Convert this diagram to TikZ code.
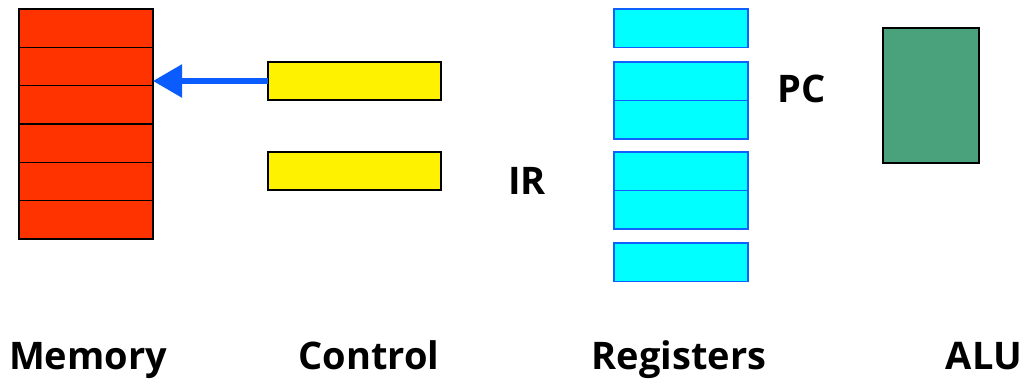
\documentclass[tikz,border=0pt]{standalone}
\usepackage{fontspec}
\setmainfont{Open Sans}
\usetikzlibrary{arrows.meta}
\definecolor{memred}{HTML}{FF3300}
\definecolor{ctlyellow}{HTML}{FFF200}
\definecolor{regcyan}{HTML}{00FFFF}
\definecolor{regblue}{HTML}{1060FF}
\definecolor{alugreen}{HTML}{49A27B}
\definecolor{arrowblue}{HTML}{0A5CFF}
\tikzset{
  cell/.style={draw=black, line width=1.4pt, inner sep=0pt, outer sep=0pt, anchor=north west},
  memcell/.style={cell, fill=memred, minimum width=134pt, minimum height=38.33pt},
  ctlbox/.style={cell, fill=ctlyellow, minimum width=173pt, minimum height=38pt},
  regbox/.style={cell, draw=regblue, fill=regcyan, minimum width=134pt, minimum height=38.5pt},
  alubox/.style={cell, fill=alugreen, minimum width=96pt, minimum height=135pt},
  lbl/.style={font=\fontsize{38}{44}\selectfont\bfseries, inner sep=0pt, anchor=base},
}
\begin{document}
\begin{tikzpicture}[x=1pt, y=-1pt]
\useasboundingbox (0,0) rectangle (1029,383);
% memory column
\foreach \i in {0,...,5} {
  \node[memcell] (m\i) at (19, {9+38.33*\i}) {};
}
% control registers
\node[ctlbox] (c1) at (268, 62) {};
\node[ctlbox] (c2) at (268, 152) {};
% register file
\node[regbox] (r0) at (614, 9) {};
\node[regbox] (r1) at (614, 62) {};
\node[regbox] (r2) at (614, 100.5) {};
\node[regbox] (r3) at (614, 152) {};
\node[regbox] (r4) at (614, 190.5) {};
\node[regbox] (r5) at (614, 243) {};
% ALU
\node[alubox] (alu) at (883, 28) {};
% address path from control to memory
\draw[arrowblue, line width=5.5pt, -{Triangle[length=29pt, width=32pt]}] (c1.west) -- (m1.east |- c1.west);
% labels
\node[lbl] (pc) at (802, 102) {PC};
\node[lbl] (ir) at (527, 194) {IR};
\node[lbl] (lmem) at (88, 369) {Memory};
\node[lbl] (lctl) at (369, 369) {Control};
\node[lbl] (lreg) at (679, 369) {Registers};
\node[lbl] (lalu) at (984, 369) {ALU};
\end{tikzpicture}
\end{document}
